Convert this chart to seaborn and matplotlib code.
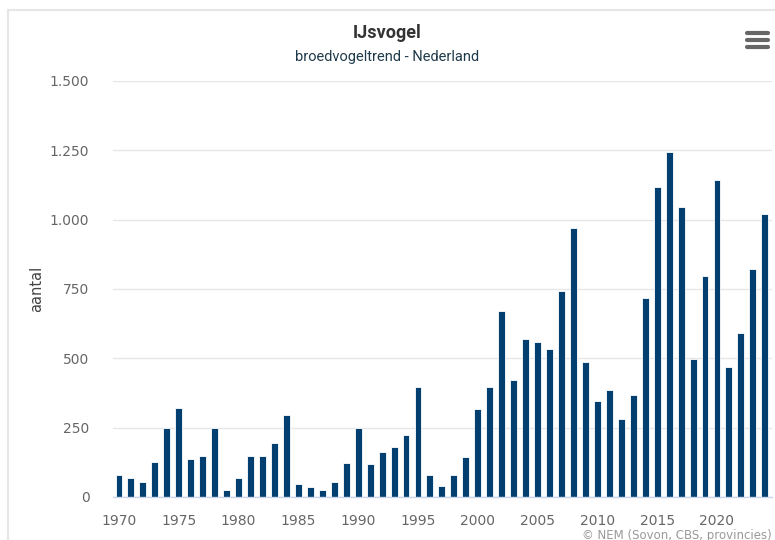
import matplotlib
matplotlib.use('Agg')
import matplotlib.pyplot as plt
import matplotlib.ticker as mticker
from matplotlib.lines import Line2D
import seaborn as sns

# Data: breeding-bird trend for the kingfisher
years = list(range(1970, 2025))
aantal = [80, 70, 54, 127, 250, 320, 137, 147, 250, 26,
          70, 147, 147, 195, 297, 46, 36, 26, 54, 122,
          250, 118, 161, 180, 223, 397, 78, 38, 78, 145,
          318, 395, 669, 421, 568, 559, 535, 742, 969, 487,
          347, 386, 280, 367, 719, 1118, 1244, 1046, 496, 796,
          1143, 468, 593, 821, 1022]

y_ticks = [0, 250, 500, 750, 1000, 1250, 1500]
x_ticks = [1970, 1975, 1980, 1985, 1990, 1995, 2000, 2005, 2010, 2015, 2020]

bar_color = '#003f6f'
grid_color = '#e6e6e6'
axis_color = '#ccd6eb'
label_color = '#666666'

sns.set_style('white')
plt.rcParams['font.family'] = ['DejaVu Sans']

fig = plt.figure(figsize=(7.75, 5.4), dpi=100)
ax = fig.add_axes([113 / 775, 1 - 497 / 540, 659 / 775, (497 - 81) / 540])

sns.barplot(x=years, y=aantal, native_scale=True, width=0.58,
            color=bar_color, saturation=1, edgecolor='white', linewidth=0.6, ax=ax)

ax.set_xlim(1969.5, 2024.6)
ax.set_ylim(0, 1500)
ax.set_yticks(y_ticks)
ax.yaxis.set_major_formatter(mticker.FuncFormatter(lambda v, p: f'{int(v):,}'.replace(',', '.')))
ax.set_xticks(x_ticks)
ax.set_xticklabels([str(x) for x in x_ticks])

ax.grid(axis='y', color=grid_color, linewidth=1)
ax.set_axisbelow(True)
for side in ['top', 'right', 'left']:
    ax.spines[side].set_visible(False)
ax.spines['bottom'].set_color(axis_color)
ax.spines['bottom'].set_linewidth(1)

ax.tick_params(axis='y', length=0, pad=17, labelsize=10, labelcolor=label_color)
ax.tick_params(axis='x', length=10, width=1, color=axis_color, pad=2,
               labelsize=10, labelcolor=label_color)

ax.set_xlabel('')
ax.set_ylabel('aantal', fontsize=10.5, color='#444444', labelpad=4)

# Titles
fig.text(0.5, 1 - 33 / 540, 'IJsvogel', ha='center', va='center',
         fontsize=13, fontweight='bold', color='#333333', family=['Roboto', 'DejaVu Sans'])
fig.text(0.5, 1 - 57 / 540, 'broedvogeltrend - Nederland', ha='center', va='center',
         fontsize=10.5, color='#1f3a4a', family=['Roboto', 'DejaVu Sans'])

# Credit
fig.text(772 / 775, 1 - 535 / 540, '\u00a9 NEM (Sovon, CBS, provincies)', ha='right', va='center',
         fontsize=8.5, color='#999999')

# Chart frame (top and left edges visible)
fig.add_artist(Line2D([8 / 775, 1], [1 - 10 / 540, 1 - 10 / 540], transform=fig.transFigure,
                      color=grid_color, linewidth=1.5))
fig.add_artist(Line2D([8 / 775, 8 / 775], [0, 1 - 10 / 540], transform=fig.transFigure,
                      color=grid_color, linewidth=1.5))

# Menu icon
for yy in [33, 40, 47]:
    fig.add_artist(Line2D([747 / 775, 768 / 775], [1 - yy / 540, 1 - yy / 540],
                          transform=fig.transFigure, color='#666666', linewidth=3,
                          solid_capstyle='round'))

fig.savefig('out.png', dpi=100)
